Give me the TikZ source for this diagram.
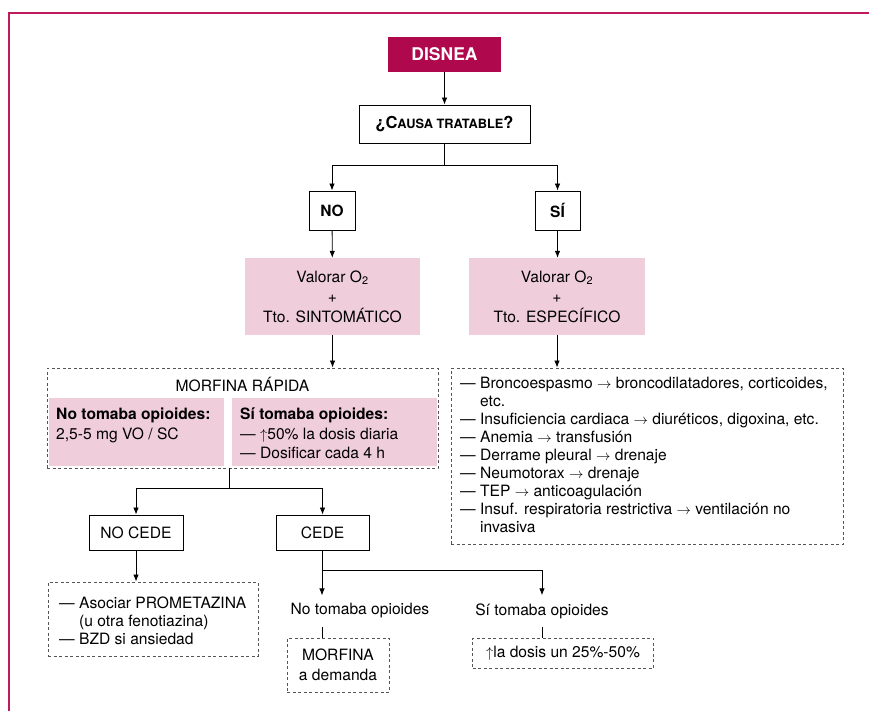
\documentclass[tikz,border=0pt]{standalone}
\usepackage{fontspec}
\setmainfont{TeX Gyre Heros}
\usetikzlibrary{arrows.meta,calc}
\definecolor{crim}{HTML}{B0084C}
\definecolor{frame}{HTML}{C01A5C}
\definecolor{rosa}{HTML}{F0CDDA}
\definecolor{dgray}{HTML}{555555}
\begin{document}
\begin{tikzpicture}[x=1pt,y=-1pt,
  font=\fontsize{15.6}{18}\selectfont,
  sbox/.style={draw=black, line width=0.9pt, inner sep=0pt, align=center},
  pbox/.style={fill=rosa, inner sep=0pt, align=center, font=\fontsize{15.6}{20}\selectfont},
  dbox/.style={draw=dgray, dash pattern=on 3pt off 2.5pt, line width=0.9pt, inner sep=0pt},
  txt/.style={inner sep=0pt, align=left},
  arr/.style={-{Latex[length=7pt,width=5.5pt]}, line width=0.8pt},
  ln/.style={line width=0.8pt}]
\useasboundingbox (0,0) rectangle (869,711);
% outer frame
\draw[frame, line width=2pt] (9,712) -- (9,13.5) -- (870,13.5);

% top
\node[fill=crim, text=white, inner sep=0pt, minimum width=113, minimum height=35, font=\fontsize{17.5}{18}\selectfont\bfseries] (dis) at (444.5,54.5) {DISNEA};
\node[sbox, minimum width=171, minimum height=38, font=\fontsize{16.5}{18}\selectfont\bfseries] (causa) at (444.5,124) {¿C{\fontsize{12.8}{14}\selectfont AUSA TRATABLE}?};
\node[sbox, minimum width=46, minimum height=39, font=\fontsize{15.5}{18}\selectfont\bfseries] (no) at (332,210.5) {NO};
\node[sbox, minimum width=45, minimum height=39, font=\fontsize{15.5}{18}\selectfont\bfseries] (si) at (557.5,210.5) {SÍ};
\draw[arr] (dis) -- (causa);
\coordinate (cj) at ($(causa.south)+(0,22)$);
\draw[ln] (causa.south) -- (cj);
\draw[arr] (cj) -| (no.north);
\draw[arr] (cj) -| (si.north);

% pink boxes
\node[pbox, minimum width=175, minimum height=77] (pno) at (332.5,296.5) {Valorar O\textsubscript{2}\\+\\Tto. SINTOMÁTICO};
\node[pbox, minimum width=176, minimum height=77] (psi) at (557,296.5) {Valorar O\textsubscript{2}\\+\\Tto. ESPECÍFICO};
\draw[arr] (no) -- (pno);
\draw[arr] (si) -- (psi.north -| si);

% morfina box
\node[fill=rosa, minimum width=175, minimum height=68, inner sep=0pt, anchor=north west] (pl) at (49,398) {};
\node[fill=rosa, minimum width=205, minimum height=68, inner sep=0pt, anchor=north west] (pr) at (232,398) {};
\node[dbox, minimum width=391, minimum height=100] (morf) at (242.5,418) {};
\node[inner sep=0pt] (morft) at (242.5,384) {MORFINA RÁPIDA};
\node[txt, anchor=north west, font=\fontsize{15.6}{19.5}\selectfont] (plt) at (56,408) {\textbf{No tomaba opioides:}\\2,5-5 mg VO / SC};
\node[txt, anchor=north west, font=\fontsize{15.6}{19.5}\selectfont] (prt) at (240,408) {\textbf{Sí tomaba opioides:}\\— $\uparrow$50\% la dosis diaria\\— Dosificar cada 4 h};
\draw[arr] (pno.south) -- (pno.south |- morf.north);

% specific list
\node[dbox, minimum width=392, minimum height=176] (lista) at (647,456) {};
\node[txt, anchor=north west] (listat) at (460,377) {— Broncoespasmo $\rightarrow$ broncodilatadores, corticoides,\\
\phantom{— }etc.\\
— Insuficiencia cardiaca $\rightarrow$ diuréticos, digoxina, etc.\\
— Anemia $\rightarrow$ transfusión\\
— Derrame pleural $\rightarrow$ drenaje\\
— Neumotorax $\rightarrow$ drenaje\\
— TEP $\rightarrow$ anticoagulación\\
— Insuf. respiratoria restrictiva $\rightarrow$ ventilación no\\
\phantom{— }invasiva};
\draw[arr] (psi.south) -- (psi.south |- lista.north);

% cede / no cede
\node[sbox, minimum width=94, minimum height=35] (nocede) at (136,532.5) {NO CEDE};
\node[sbox, minimum width=93, minimum height=35] (cede) at (322.5,532.5) {CEDE};
\coordinate (mj) at (229,488);
\draw[ln] (229,468) coordinate (mb) -- (mj);
\draw[arr] (mj) -| (nocede.north);
\draw[arr] (mj) -| (cede.north);

\node[dbox, minimum width=210, minimum height=74] (nocbox) at (153,619) {};
\node[txt, anchor=north west] (nocboxt) at (59,597) {— Asociar PROMETAZINA\\\phantom{— }(u otra fenotiazina)\\— BZD si ansiedad};
\draw[arr] (nocede) -- (nocede |- nocbox.north);

\coordinate (cj2) at (322,570);
\node[inner xsep=0pt, inner ysep=8pt] (notom) at (360,611) {No tomaba opioides};
\node[inner xsep=0pt, inner ysep=8pt] (sitom) at (542,611) {Sí tomaba opioides};
\draw[ln] (cede.south -| cj2) -- (cj2);
\draw[arr] (cj2) -- (cj2 |- notom.north);
\draw[arr] (cj2) -| (sitom.north);

\node[dbox, minimum width=102, minimum height=54, align=center, font=\fontsize{15.6}{20}\selectfont] (mdem) at (338,665) {MORFINA\\a demanda};
\node[dbox, minimum width=181, minimum height=30] (dosis) at (563,653) {$\uparrow$la dosis un 25\%-50\%};
\draw[ln] (notom.south -| cj2) -- (mdem.north -| cj2);
\draw[ln] (sitom.south) -- (sitom.south |- dosis.north);
\end{tikzpicture}
\end{document}
